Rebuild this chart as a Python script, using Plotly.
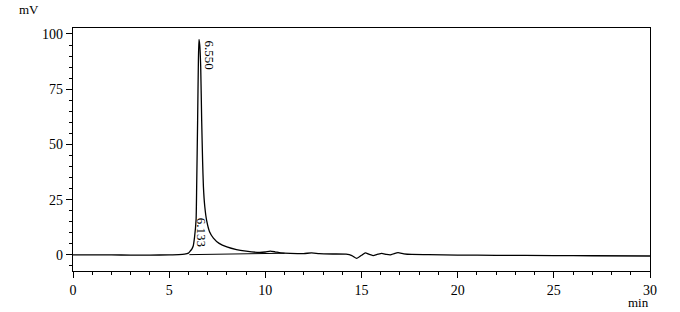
import plotly.graph_objects as go

# Chromatogram signal (time in min, signal in mV)
time_min = [0, 1, 2, 3, 4, 5, 5.5, 5.8, 6.0, 6.1, 6.17, 6.25, 6.32, 6.4, 6.43, 6.48,
            6.52, 6.55, 6.59, 6.64, 6.69, 6.74, 6.78, 6.85, 6.95, 7.1, 7.3, 7.6, 8.0,
            8.5, 9.0, 9.7, 10.0, 10.25, 10.5, 10.8, 11.3, 12.0, 12.4, 12.8, 13.5, 14.2,
            14.5, 14.75, 15.0, 15.2, 15.4, 15.6, 15.85, 16.05, 16.3, 16.5, 16.7, 16.9,
            17.2, 17.6, 18.5, 20, 22, 25, 27, 30]
signal_mv = [0, 0, 0, -0.1, -0.1, 0, 0.1, 0.3, 0.8, 1.8, 2.5, 4, 8, 16, 31, 61,
             88, 97.5, 95, 85, 61, 42, 31, 22, 15.5, 10.5, 7.6, 5.2, 3.6,
             2.4, 1.7, 1.1, 1.3, 1.7, 1.4, 0.9, 0.7, 0.6, 0.9, 0.6, 0.4, 0.3,
             -0.3, -1.6, -0.2, 0.9, 0.2, -0.3, 0.3, 0.7, 0.2, 0.0, 0.6, 1.0,
             0.5, 0.2, 0.1, -0.1, -0.2, -0.3, -0.4, -0.5]

# Integration baseline
base_time = [6.05, 11.0]
base_mv = [0.1, 0.75]

# Peak labels
peak_times = [6.133, 6.550]
peak_label_y = [2.8, 98.0]
peak_labels = ["6.133", "6.550"]
peak_anchor = ["bottom", "top"]

x_ticks = [0, 5, 10, 15, 20, 25, 30]
y_ticks = [0, 25, 50, 75, 100]

FONT = "Liberation Serif"

fig = go.Figure()
fig.add_trace(go.Scatter(x=time_min, y=signal_mv, mode="lines",
                         line=dict(color="black", width=1.3, shape="spline", smoothing=0.5),
                         showlegend=False))
fig.add_trace(go.Scatter(x=base_time, y=base_mv, mode="lines",
                         line=dict(color="black", width=1), showlegend=False))

for t, yv, lab, anc in zip(peak_times, peak_label_y, peak_labels, peak_anchor):
    fig.add_annotation(x=t, y=yv, text=lab, textangle=90, showarrow=False,
                       xanchor="left", yanchor=anc, xshift=1,
                       font=dict(family=FONT, size=13, color="black"))

fig.update_layout(
    width=680, height=312,
    margin=dict(l=73, r=30, t=28, b=41),
    paper_bgcolor="white", plot_bgcolor="white",
    font=dict(family=FONT, size=14, color="black"),
    xaxis=dict(range=[0, 30], tickvals=x_ticks, ticks="outside", ticklen=6,
               tickcolor="black", showline=True, linecolor="black", linewidth=1.3,
               mirror=True, showgrid=False, zeroline=False,
               minor=dict(dtick=1, ticks="outside", ticklen=3, tickcolor="black")),
    yaxis=dict(range=[-7.3, 102.7], tickvals=y_ticks, ticks="outside", ticklen=6,
               tickcolor="black", showline=True, linecolor="black", linewidth=1.3,
               mirror=True, showgrid=False, zeroline=False,
               minor=dict(dtick=5, tick0=0, ticks="outside", ticklen=3, tickcolor="black")),
)

# axis unit labels (in pixel-based paper coordinates)
fig.add_annotation(x=(29 - 73) / 577, y=(271 - 9) / 243, xref="paper", yref="paper",
                   text="mV", showarrow=False, xanchor="center", yanchor="middle",
                   font=dict(family=FONT, size=13, color="black"))
fig.add_annotation(x=(638 - 73) / 577, y=(271 - 302) / 243, xref="paper", yref="paper",
                   text="min", showarrow=False, xanchor="center", yanchor="middle",
                   font=dict(family=FONT, size=13, color="black"))

fig.write_html("out.html")
